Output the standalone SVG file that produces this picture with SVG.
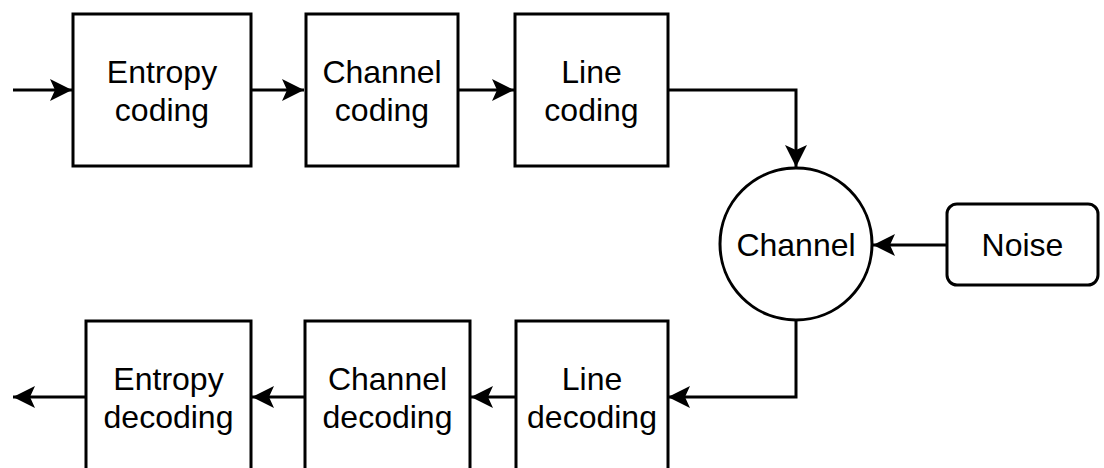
<svg xmlns="http://www.w3.org/2000/svg" width="1104" height="468" viewBox="0 0 1104 468">
  <style>
    .box { fill: #ffffff; stroke: #000000; stroke-width: 3; }
    .edge { fill: none; stroke: #000000; stroke-width: 3; }
    .label { font-family: "Liberation Sans", Arial, sans-serif; font-size: 32px; fill: #000000; text-anchor: middle; }
  </style>
  <defs>
    <marker id="arrow" markerUnits="userSpaceOnUse" markerWidth="26" markerHeight="26" viewBox="-24 -13 26 26" refX="0" refY="0" orient="auto" overflow="visible">
      <path d="M0,0 L-22,-11 L-17,0 L-22,11 Z" fill="#000000" stroke="none"/>
    </marker>
  </defs>
  <rect width="1104" height="468" fill="#ffffff"/>

  <g id="connectors">
    <path class="edge" d="M13,90 L72,90" marker-end="url(#arrow)"/>
    <path class="edge" d="M251,90 L304,90" marker-end="url(#arrow)"/>
    <path class="edge" d="M458,90 L514,90" marker-end="url(#arrow)"/>
    <path class="edge" d="M668,90 L796,90 L796,167" marker-end="url(#arrow)"/>
    <path class="edge" d="M947,245 L873,245" marker-end="url(#arrow)"/>
    <path class="edge" d="M796,320 L796,397 L668,397" marker-end="url(#arrow)"/>
    <path class="edge" d="M515,397 L471,397" marker-end="url(#arrow)"/>
    <path class="edge" d="M305,397 L252,397" marker-end="url(#arrow)"/>
    <path class="edge" d="M86,397 L13,397" marker-end="url(#arrow)"/>
  </g>

  <g id="entropy-coding">
    <rect class="box" x="73" y="14" width="178" height="152"/>
    <text class="label" x="162" y="83">Entropy</text>
    <text class="label" x="162" y="121">coding</text>
  </g>
  <g id="channel-coding">
    <rect class="box" x="306" y="14" width="152" height="152"/>
    <text class="label" x="382" y="83">Channel</text>
    <text class="label" x="382" y="121">coding</text>
  </g>
  <g id="line-coding">
    <rect class="box" x="515" y="14" width="153" height="152"/>
    <text class="label" x="591.5" y="83">Line</text>
    <text class="label" x="591.5" y="121">coding</text>
  </g>
  <g id="channel">
    <circle class="box" cx="796" cy="244" r="76"/>
    <text class="label" x="796" y="256">Channel</text>
  </g>
  <g id="noise">
    <rect class="box" x="947" y="204" width="151" height="81" rx="10" ry="10"/>
    <text class="label" x="1022.5" y="256">Noise</text>
  </g>
  <g id="line-decoding">
    <rect class="box" x="516" y="321" width="152" height="152"/>
    <text class="label" x="592" y="390">Line</text>
    <text class="label" x="592" y="428">decoding</text>
  </g>
  <g id="channel-decoding">
    <rect class="box" x="305" y="321" width="165" height="152"/>
    <text class="label" x="387.5" y="390">Channel</text>
    <text class="label" x="387.5" y="428">decoding</text>
  </g>
  <g id="entropy-decoding">
    <rect class="box" x="86" y="321" width="165" height="152"/>
    <text class="label" x="168.5" y="390">Entropy</text>
    <text class="label" x="168.5" y="428">decoding</text>
  </g>
</svg>
